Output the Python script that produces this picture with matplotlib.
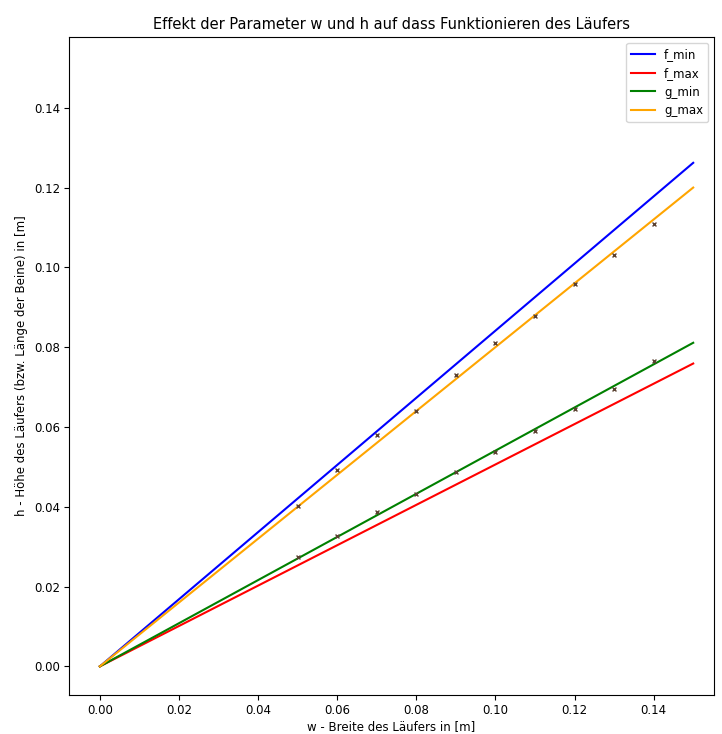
import matplotlib.pyplot as plt
import numpy as np

# line end points (lines go through origin)
w_line = [0.0, 0.15]
f_min = [0.0, 0.1262]
f_max = [0.0, 0.0759]
g_min = [0.0, 0.0811]
g_max = [0.0, 0.1200]

# measured points
w_pts = [0.05, 0.06, 0.07, 0.08, 0.09, 0.10, 0.11, 0.12, 0.13, 0.14]
g_max_pts = [0.0401, 0.0493, 0.0581, 0.0639, 0.0731, 0.0811, 0.0879, 0.0959, 0.1032, 0.1109]
g_min_pts = [0.0273, 0.0326, 0.0386, 0.0431, 0.0488, 0.0538, 0.0591, 0.0646, 0.0696, 0.0766]


def main():
    plt.rcParams["font.size"] = 8.5
    fig = plt.figure(figsize=(7.22, 7.34), dpi=100)
    ax = fig.add_axes([0.0956, 0.053, 0.893, 0.8964])

    ax.plot(w_line, f_min, color="blue", label="f_min")
    ax.plot(w_line, f_max, color="red", label="f_max")
    ax.plot(w_line, g_min, color="green", label="g_min")
    ax.plot(w_line, g_max, color="orange", label="g_max")

    ax.scatter(w_pts, g_max_pts, marker="x", s=8, color="#5a4030", linewidths=1, zorder=3)
    ax.scatter(w_pts, g_min_pts, marker="x", s=8, color="#5a4030", linewidths=1, zorder=3)

    ax.set_xlim(-0.0078, 0.1552)
    ax.set_ylim(-0.0072, 0.1577)
    ax.set_xticks(np.arange(0, 0.141, 0.02))
    ax.set_yticks(np.arange(0, 0.141, 0.02))
    ax.tick_params(labelsize=8.5, pad=3)

    ax.set_title("Effekt der Parameter w und h auf dass Funktionieren des Läufers", fontsize=10.5)
    ax.set_xlabel("w - Breite des Läufers in [m]", fontsize=8.5, labelpad=2)
    ax.set_ylabel("h - Höhe des Läufers (bzw. Länge der Beine) in [m]", fontsize=8.5)
    ax.legend(loc="upper right", fontsize=8.5)

    fig.savefig("out.png", dpi=100)


if __name__ == "__main__":
    main()
